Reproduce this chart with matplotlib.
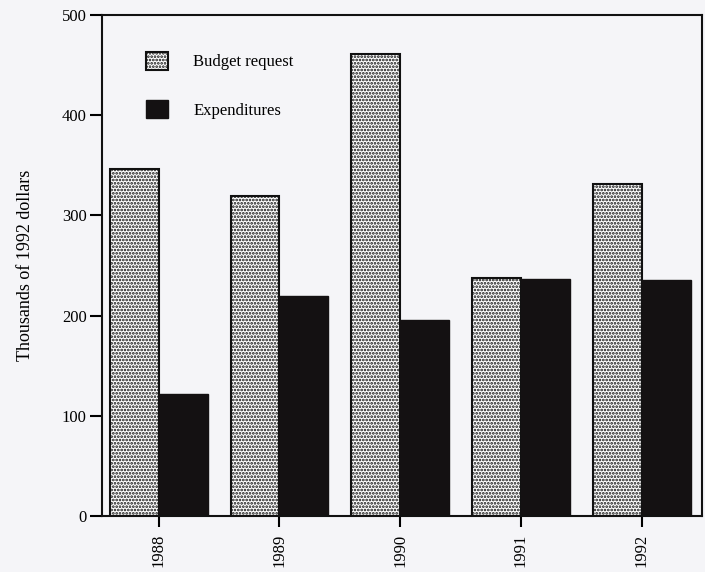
import matplotlib
matplotlib.use("Agg")
import matplotlib.pyplot as plt
import numpy as np

years = ["1988", "1989", "1990", "1991", "1992"]
budget_request = [346, 319, 461, 238, 331]
expenditures = [122, 220, 196, 237, 236]
y_ticks = [0, 100, 200, 300, 400, 500]

plt.rcParams["font.family"] = ["Liberation Serif", "DejaVu Serif"]
plt.rcParams["hatch.linewidth"] = 1.3
plt.rcParams["hatch.color"] = "#1a1a1a"

bg = "#f5f5f8"
fig = plt.figure(figsize=(7.05, 5.72), dpi=100, facecolor=bg)
ax = fig.add_axes([0.1447, 0.0979, 0.851, 0.8759], facecolor=bg)

x = np.arange(len(years))
w = 0.405
ax.bar(x - w / 2, budget_request, width=w, facecolor="white",
       edgecolor="#111111", linewidth=1.5, hatch=".....",
       label="Budget request")
ax.bar(x + w / 2, expenditures, width=w, facecolor="#141112",
       edgecolor="#141112", linewidth=1.0, label="Expenditures")

ax.set_xlim(-0.47, 4.5)
ax.set_ylim(0, 500)
ax.set_yticks(y_ticks)
ax.set_xticks(x)
ax.set_xticklabels(years, rotation=90, fontsize=12)
ax.tick_params(axis="y", length=9, width=1.5, labelsize=12, pad=2)
ax.tick_params(axis="x", length=8, width=1.5, pad=5)
for s in ax.spines.values():
    s.set_linewidth(1.5)
    s.set_color("#111111")

ax.set_ylabel("Thousands of 1992 dollars", fontsize=13, labelpad=20)

leg = ax.legend(loc="upper left", bbox_to_anchor=(0.073, 0.926),
                frameon=False, borderpad=0, borderaxespad=0,
                handlelength=1.35, handleheight=1.25, handletextpad=1.5,
                labelspacing=1.8, fontsize=12)

fig.savefig("out.png", dpi=100, facecolor=bg)
